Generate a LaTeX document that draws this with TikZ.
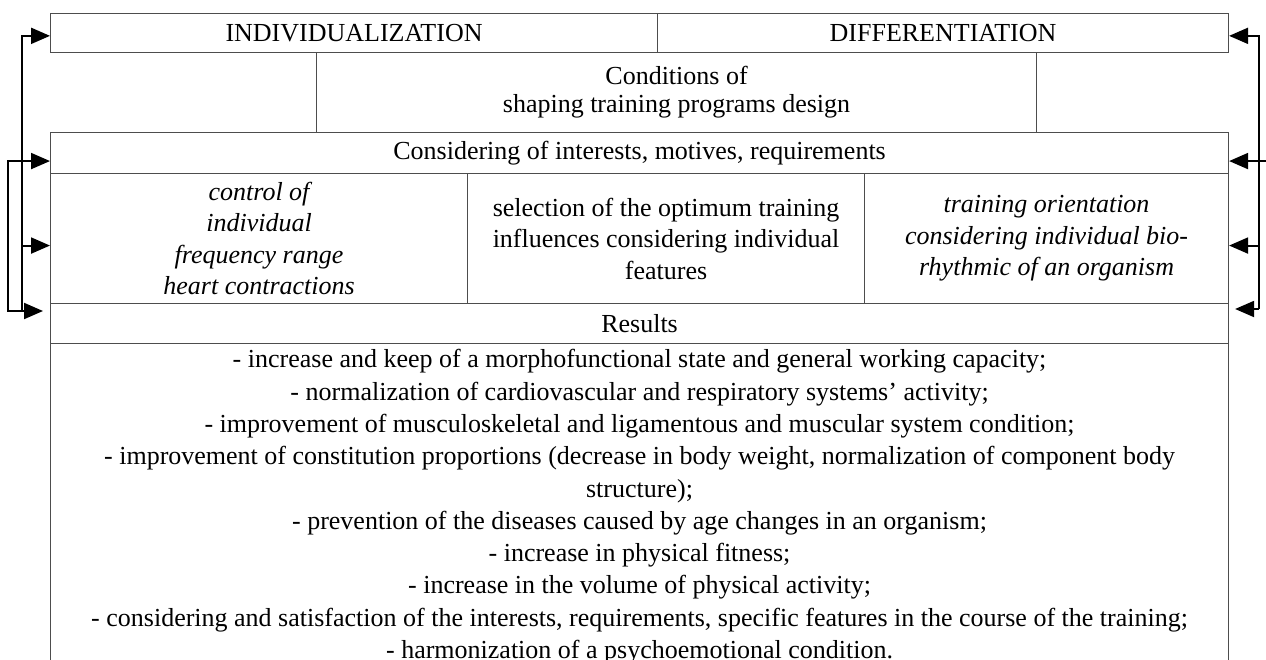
\documentclass[tikz,border=0pt]{standalone}
\usepackage{fontspec}
\setmainfont{Liberation Serif}
\usetikzlibrary{arrows.meta,calc}
\definecolor{rule}{HTML}{4D4D4D}
\tikzset{
  cell/.style={
    draw=rule,line width=1.1pt,anchor=north west,inner sep=0pt,
    align=center,font=\fontsize{26}{31.5}\selectfont
  },
  feed/.style={-{Triangle[length=19pt,width=16pt]},draw=black,line width=2pt}
}
\begin{document}
\begin{tikzpicture}[x=1pt,y=-1pt]
\clip (0,0) rectangle (1266,659);

% top row
\node[cell,minimum width=607pt,minimum height=38.6pt] (indiv) at (50,13)
{INDIVIDUALIZATION};
\node[cell,minimum width=571pt,minimum height=38.6pt] (diff) at (657,13)
{DIFFERENTIATION};
\node[cell,minimum width=720pt,minimum height=80.4pt,
  font=\fontsize{26}{28.5}\selectfont] (cond) at (316,51.6)
{Conditions of\\shaping training programs design};
\node[cell,minimum width=1178pt,minimum height=41pt] (consid) at (50,132)
{Considering of interests, motives, requirements};

% three cells
\node[cell,minimum width=417pt,minimum height=130pt] (ctrl) at (50,173)
{\itshape control of\\\itshape individual\\\itshape frequency range\\\itshape heart contractions};
\node[cell,minimum width=397pt,minimum height=130pt] (select) at (467,173)
{selection of the optimum training\\influences considering individual\\features};
\node[cell,minimum width=364pt,minimum height=130pt] (orient) at (864,173)
{\itshape training orientation\\\itshape considering individual bio-\\\itshape rhythmic of an organism};

% results
\node[cell,minimum width=1178pt,minimum height=40pt] (results) at (50,303)
{Results};
\node[cell,minimum width=1178pt,inner ysep=6pt,
  font=\fontsize{26}{32.3}\selectfont] (effects) at (50,343)
{- increase and keep of a morphofunctional state and general working capacity;\\
- normalization of cardiovascular and respiratory systems' activity;\\
- improvement of musculoskeletal and ligamentous and muscular system condition;\\
- improvement of constitution proportions (decrease in body weight, normalization of component body\\
structure);\\
- prevention of the diseases caused by age changes in an organism;\\
- increase in physical fitness;\\
- increase in the volume of physical activity;\\
- considering and satisfaction of the interests, requirements, specific features in the course of the training;\\
- harmonization of a psychoemotional condition.};

% feedback rails
\coordinate (lbot) at (22,311);
\coordinate (rbot) at (1259,309);
\coordinate (rin) at (1272,0);

\draw[feed] (lbot) |- ([yshift=-3pt]indiv.west);
\draw[feed] (lbot) -- ++(-14,0) |- ([yshift=-8pt]consid.west);
\draw[feed] ([yshift=-7pt]ctrl.west -| lbot) -- ([yshift=-7pt]ctrl.west);
\draw[feed,shorten >=7pt] (lbot) -- ([yshift=-8pt]results.north west);

\draw[feed] (rbot) |- ([yshift=-3pt]diff.east);
\draw[feed] ([yshift=-8pt]consid.east -| rin) -- ([yshift=-8pt]consid.east);
\draw[feed] ([yshift=-7pt]orient.east -| rbot) -- ([yshift=-7pt]orient.east);
\draw[feed,shorten >=6pt] (rbot) -- ([yshift=-6pt]results.north east);
\end{tikzpicture}
\end{document}
